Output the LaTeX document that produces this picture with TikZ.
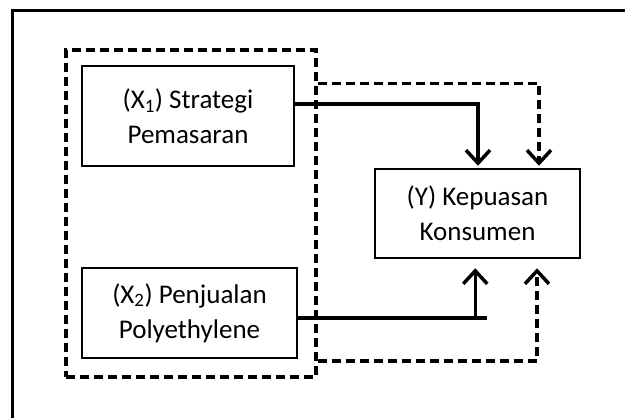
\documentclass[tikz,border=0pt]{standalone}
\usepackage{fontspec}
\setmainfont{Carlito}
\usetikzlibrary{arrows.meta,positioning}

\begin{document}
\begin{tikzpicture}[x=1pt,y=1pt]
        \tikzset{box/.style={draw,line width=2.5pt,align=center,inner sep=0pt,font=\fontsize{27}{35}\selectfont},
                link/.style={line width=3.5pt,-{Straight Barb[length=13pt,width=24pt]}},
                dlink/.style={link,dash pattern=on 9pt off 5pt}}
        \useasboundingbox (0,0) rectangle (625,-418);
        \draw [black,line width=3pt] (12,-418) -- (12,-10) -- (625,-10);
        \node [draw,line width=3.5pt,dash pattern=on 9pt off 5pt,minimum width=250pt,minimum height=327pt] (grp) at (191,-213.5) {};
        \node [box,minimum width=212pt,minimum height=100pt] (x1) at (188,-116) {(X\textsubscript{1}) Strategi\\Pemasaran};
        \node [box,minimum width=215pt,minimum height=90pt] (x2) at (189.5,-313) {(X\textsubscript{2}) Penjualan\\Polyethylene};
        \node [box,minimum width=205pt,minimum height=89pt] (y) at (477.5,-213.5) {(Y) Kepuasan\\Konsumen};
        \draw [link,shorten >=2pt] ([yshift=12pt]x1.east) -| ([xshift=0.5pt]y.north);
        \draw [dlink,shorten >=2pt] ([yshift=-35pt]grp.north east) -| ([xshift=61.5pt]y.north);
        \draw [black,line width=3.5pt] ([yshift=-5pt]x2.east) -- ++(189,0) coordinate (xend);
        \coordinate (j) at ([xshift=-12pt]xend);
        \draw [link,shorten >=9pt] (j) -- (j |- y.south);
        \draw [dlink,shorten >=9pt] ([yshift=18pt]grp.south east) -| ([xshift=59.5pt]y.south);
\end{tikzpicture}
\end{document}
